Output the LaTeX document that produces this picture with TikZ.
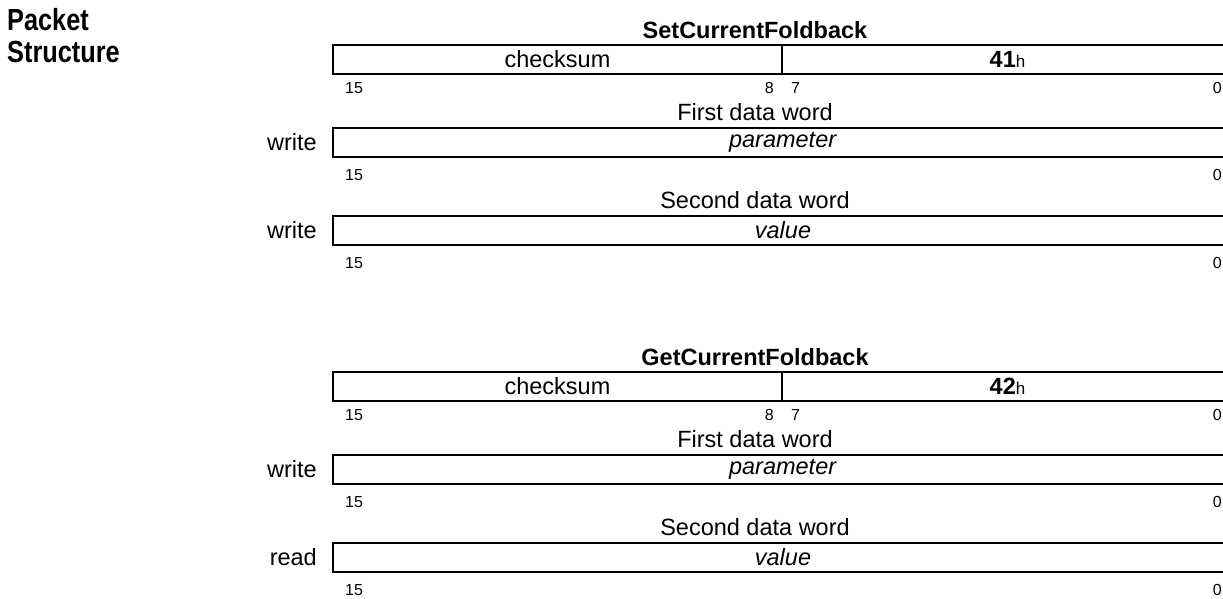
\documentclass[tikz,border=0pt]{standalone}
\usepackage{fontspec}
\setmainfont{Liberation Sans}
\newfontfamily\condfont[FakeStretch=0.83]{Liberation Sans}
\newcommand\fsz[1]{\fontsize{#1}{#1}\selectfont}
\newcommand\hsuf{{\fsz{17}\mdseries h}}
\begin{document}
\begin{tikzpicture}[x=1pt,y=-1pt,
  cell/.style={draw,line width=1.8pt,outer sep=0pt,minimum height=29pt,inner sep=0pt,anchor=north west,font=\fsz{23.5}},
  wide/.style={cell,minimum width=900pt},
  bit/.style={inner sep=0pt,font=\fsz{16}},
  captext/.style={inner sep=0pt,font=\fsz{23.5}},
  ttl/.style={inner sep=0pt,font=\fsz{23.5}\bfseries},
  rw/.style={inner sep=0pt,anchor=east,font=\fsz{23.5}},
  head/.style={inner sep=0pt,anchor=base west,font=\condfont\bfseries\fsz{30.5}}]
\useasboundingbox (0,0) rectangle (1223,599);
\node[head] (pk) at (7,31) {Packet};
\node[head] (st) at (7,63) {Structure};
% ---- group 1
\node[ttl] (t1) at (755,30) {SetCurrentFoldback};
\node[cell,minimum width=449pt] (cs1) at (333,45) {checksum};
\node[cell,minimum width=451pt] (id1) at (cs1.north east) {\textbf{41}\hsuf};
\node[bit,anchor=west] (b1a) at (345,88) {15};
\node[bit,anchor=east] (b1b) at (774,88) {8};
\node[bit,anchor=west] (b1c) at (791,88) {7};
\node[bit,anchor=east] (b1d) at (1222,88) {0};
\node[captext] (f1) at (755,112) {First data word};
\node[wide] (p1) at (333,128) {\textit{parameter}};
\node[rw] (w1) at (317,142.5) {write};
\node[bit,anchor=west] (b2a) at (345,175) {15};
\node[bit,anchor=east] (b2d) at (1222,175) {0};
\node[captext] (s1) at (755,200) {Second data word};
\node[wide] (v1) at (333,216) {\textit{value}};
\node[rw] (w2) at (317,230.5) {write};
\node[bit,anchor=west] (b3a) at (345,263) {15};
\node[bit,anchor=east] (b3d) at (1222,263) {0};
% ---- group 2
\node[ttl] (t2) at (755,357) {GetCurrentFoldback};
\node[cell,minimum width=449pt] (cs2) at (333,372) {checksum};
\node[cell,minimum width=451pt] (id2) at (cs2.north east) {\textbf{42}\hsuf};
\node[bit,anchor=west] (b4a) at (345,415) {15};
\node[bit,anchor=east] (b4b) at (774,415) {8};
\node[bit,anchor=west] (b4c) at (791,415) {7};
\node[bit,anchor=east] (b4d) at (1222,415) {0};
\node[captext] (f2) at (755,439) {First data word};
\node[wide] (p2) at (333,455) {\textit{parameter}};
\node[rw] (w3) at (317,469.5) {write};
\node[bit,anchor=west] (b5a) at (345,502) {15};
\node[bit,anchor=east] (b5d) at (1222,502) {0};
\node[captext] (s2) at (755,527) {Second data word};
\node[wide] (v2) at (333,543) {\textit{value}};
\node[rw] (r1) at (317,557.5) {read};
\node[bit,anchor=west] (b6a) at (345,590) {15};
\node[bit,anchor=east] (b6d) at (1222,590) {0};
\end{tikzpicture}
\end{document}
